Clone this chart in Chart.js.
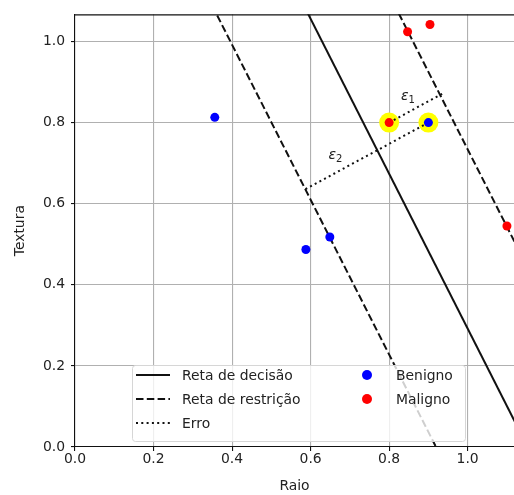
<!DOCTYPE html>
<html>
<head>
<meta charset="utf-8">
<script src="https://cdn.jsdelivr.net/npm/chart.js@4.4.1/dist/chart.umd.min.js"></script>
<style>
  html, body { margin: 0; padding: 0; background: #fff; }
  #wrap { width: 514px; height: 495px; }
</style>
</head>
<body>
<div id="wrap"><canvas id="svm-chart" width="514" height="495"></canvas></div>
<script>
// data
const benignX = [0.356, 0.588, 0.649, 0.90];
const benignY = [0.813, 0.487, 0.518, 0.80];
const malignX = [0.80, 0.847, 0.904, 1.10];
const malignY = [0.80, 1.024, 1.042, 0.545];
const supportX = [0.80, 0.90];
const supportY = [0.80, 0.80];

// lines: decision + the two margin lines (slope ~ -1.91)
const decisionX = [0.50, 1.20];
const decisionY = [1.247, -0.090];
const marginLowX = [0.30, 1.00];
const marginLowY = [1.183, -0.154];
const marginHighX = [0.70, 1.20];
const marginHighY = [1.307, 0.352];

// error segments (epsilon)
const err1X = [0.80, 0.935];
const err1Y = [0.80, 0.871];
const err2X = [0.90, 0.587];
const err2Y = [0.80, 0.636];

const epsLabels = ['1', '2'];
const epsX = [0.847, 0.662];
const epsY = [0.864, 0.72];

const xTicks = [0, 0.2, 0.4, 0.6, 0.8, 1.0];
const yTicks = [0, 0.2, 0.4, 0.6, 0.8, 1.0];

const FONT = '"DejaVu Sans", sans-serif';
const INK = '#222';

const pts = (xs, ys) => xs.map((x, i) => ({ x, y: ys[i] }));

function lineSet(xs, ys, dash, order) {
  return {
    data: pts(xs, ys),
    showLine: true,
    borderColor: '#111',
    borderWidth: 2,
    borderDash: dash,
    pointRadius: 0,
    order
  };
}

// legend inside the plot + top spine + epsilon labels
const extras = {
  id: 'extras',
  afterDatasetsDraw(chart) {
    const { ctx, chartArea: a, scales: { x, y } } = chart;
    ctx.save();

    // top spine
    ctx.strokeStyle = '#111';
    ctx.lineWidth = 1.1;
    ctx.beginPath();
    ctx.moveTo(a.left, a.top + 0.5);
    ctx.lineTo(a.right, a.top + 0.5);
    ctx.stroke();

    // epsilon labels
    ctx.fillStyle = INK;
    ctx.textBaseline = 'middle';
    epsLabels.forEach((s, i) => {
      const px = x.getPixelForValue(epsX[i]);
      const py = y.getPixelForValue(epsY[i]);
      ctx.font = 'italic 14px ' + FONT;
      ctx.textAlign = 'right';
      ctx.fillText('\u03b5', px + 1, py);
      ctx.font = '10px ' + FONT;
      ctx.textAlign = 'left';
      ctx.fillText(s, px + 1, py + 4);
    });

    // legend box
    const bx = 132, by = 365, bw = 333, bh = 76;
    ctx.fillStyle = 'rgba(255,255,255,0.8)';
    ctx.strokeStyle = '#d6d6d6';
    ctx.lineWidth = 1;
    ctx.beginPath();
    ctx.roundRect(bx + 0.5, by + 0.5, bw, bh, 3);
    ctx.fill();
    ctx.stroke();

    const rows = [375, 399, 423];
    const lineItems = [
      { label: 'Reta de decisão', dash: [] },
      { label: 'Reta de restrição', dash: [7.5, 3.3] },
      { label: 'Erro', dash: [2, 3.3] }
    ];
    ctx.font = '13.9px ' + FONT;
    ctx.textAlign = 'left';
    ctx.textBaseline = 'middle';
    lineItems.forEach((it, i) => {
      ctx.strokeStyle = '#111';
      ctx.lineWidth = 2;
      ctx.setLineDash(it.dash);
      ctx.beginPath();
      ctx.moveTo(136, rows[i]);
      ctx.lineTo(170, rows[i]);
      ctx.stroke();
      ctx.setLineDash([]);
      ctx.fillStyle = INK;
      ctx.fillText(it.label, 182, rows[i] + 1);
    });
    const dotItems = [
      { label: 'Benigno', color: '#0000ff' },
      { label: 'Maligno', color: '#ff0000' }
    ];
    dotItems.forEach((it, i) => {
      ctx.fillStyle = it.color;
      ctx.beginPath();
      ctx.arc(367, rows[i], 5, 0, Math.PI * 2);
      ctx.fill();
      ctx.fillStyle = INK;
      ctx.fillText(it.label, 396, rows[i] + 1);
    });

    ctx.restore();
  }
};

new Chart(document.getElementById('svm-chart'), {
  type: 'scatter',
  data: {
    datasets: [
      { data: pts(supportX, supportY), backgroundColor: '#ffff00', borderWidth: 0, pointRadius: 10, order: 9 },
      lineSet(decisionX, decisionY, [], 5),
      lineSet(marginLowX, marginLowY, [7.5, 3.3], 5),
      lineSet(marginHighX, marginHighY, [7.5, 3.3], 5),
      lineSet(err1X, err1Y, [2, 3.3], 5),
      lineSet(err2X, err2Y, [2, 3.3], 5),
      { data: pts(benignX, benignY), backgroundColor: '#0000ff', borderWidth: 0, pointRadius: 4.5, order: 1 },
      { data: pts(malignX, malignY), backgroundColor: '#ff0000', borderWidth: 0, pointRadius: 4.5, order: 1 }
    ]
  },
  options: {
    responsive: false,
    animation: false,
    devicePixelRatio: 1,
    layout: { autoPadding: false, padding: { top: 12, right: 0, left: 0, bottom: 0 } },
    plugins: { legend: { display: false }, tooltip: { enabled: false } },
    scales: {
      x: {
        type: 'linear',
        min: 0,
        max: 1.118,
        afterFit: s => { s.height = 48; },
        afterBuildTicks: s => { s.ticks = xTicks.map(v => ({ value: v })); },
        ticks: {
          includeBounds: false,
          color: INK,
          font: { family: FONT, size: 13.9 },
          padding: 0,
          maxRotation: 0,
          callback: v => v.toFixed(1)
        },
        grid: { color: '#b0b0b0', lineWidth: 1.1, tickColor: '#111', tickLength: 4 },
        border: { color: '#111', width: 1.1 },
        title: { display: true, text: 'Raio', color: INK, font: { family: FONT, size: 13.9 }, padding: { top: -3, bottom: 0 } }
      },
      y: {
        type: 'linear',
        min: 0,
        max: 1.067,
        afterFit: s => { s.width = 75; },
        afterBuildTicks: s => { s.ticks = yTicks.map(v => ({ value: v })); },
        ticks: {
          includeBounds: false,
          color: INK,
          font: { family: FONT, size: 13.9 },
          padding: 6,
          callback: v => v.toFixed(1)
        },
        grid: { color: '#b0b0b0', lineWidth: 1.1, tickColor: '#111', tickLength: 4 },
        border: { color: '#111', width: 1.1 },
        title: { display: true, text: 'Textura', color: INK, font: { family: FONT, size: 13.9 }, padding: { top: 12, bottom: 0 } }
      }
    }
  },
  plugins: [extras]
});
</script>
</body>
</html>
